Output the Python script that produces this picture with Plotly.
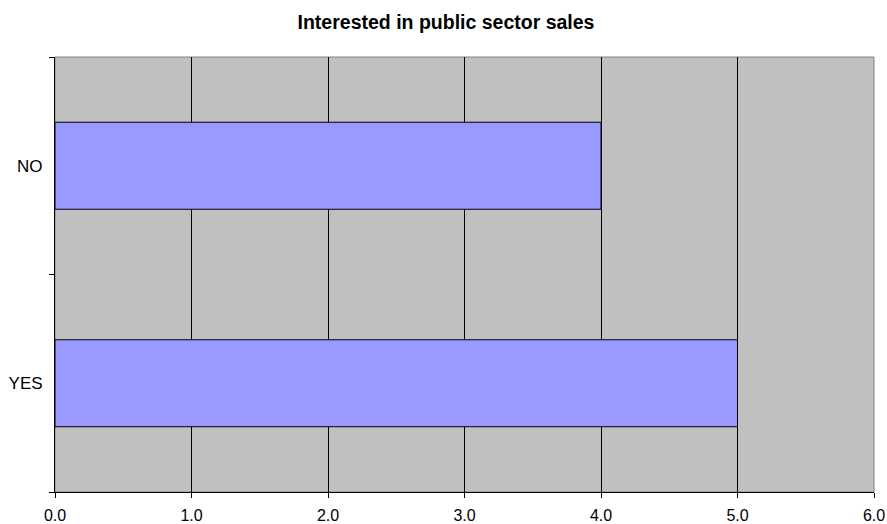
import plotly.graph_objects as go

categories = ["YES", "NO"]
values = [5, 4]
x_ticks = [0, 1, 2, 3, 4, 5, 6]
x_labels = ["0.0", "1.0", "2.0", "3.0", "4.0", "5.0", "6.0"]

fig = go.Figure()
fig.add_trace(go.Bar(
    y=categories, x=values, orientation="h",
    marker=dict(color="#9999FF", line=dict(color="black", width=1)),
    showlegend=False,
))

fig.update_layout(
    width=887, height=524,
    margin=dict(l=55, r=13, t=57, b=32),
    paper_bgcolor="white", plot_bgcolor="#C0C0C0",
    font=dict(family="Liberation Sans, Arial, sans-serif", size=16, color="black"),
    title=dict(text="<b>Interested in public sector sales</b>", x=446 / 887, xanchor="center",
               y=1 - 22 / 524, yanchor="middle", font=dict(size=19.5)),
    bargap=0.6,
    xaxis=dict(range=[0, 6], tickvals=x_ticks, ticktext=x_labels,
               showgrid=True, gridcolor="black", gridwidth=1,
               showline=True, linecolor="black", linewidth=1,
               ticks="outside", ticklen=5, tickcolor="black",
               ticklabelstandoff=4, automargin=False,
               zeroline=False, fixedrange=True),
    yaxis=dict(type="category", categoryorder="array", categoryarray=categories,
               tickson="boundaries", ticks="outside", ticklen=5, tickcolor="black",
               ticklabelstandoff=8, tickfont=dict(size=17), automargin=False,
               showgrid=False, showline=True, linecolor="black", linewidth=1,
               zeroline=False, fixedrange=True),
    shapes=[dict(type="rect", xref="paper", yref="paper", x0=0, x1=1, y0=0, y1=1,
                 line=dict(color="#808080", width=1), fillcolor="rgba(0,0,0,0)", layer="below")],
)

fig.write_html("out.html", config={"displayModeBar": False},
               post_script="document.body.style.margin='0';document.body.style.padding='0';")
